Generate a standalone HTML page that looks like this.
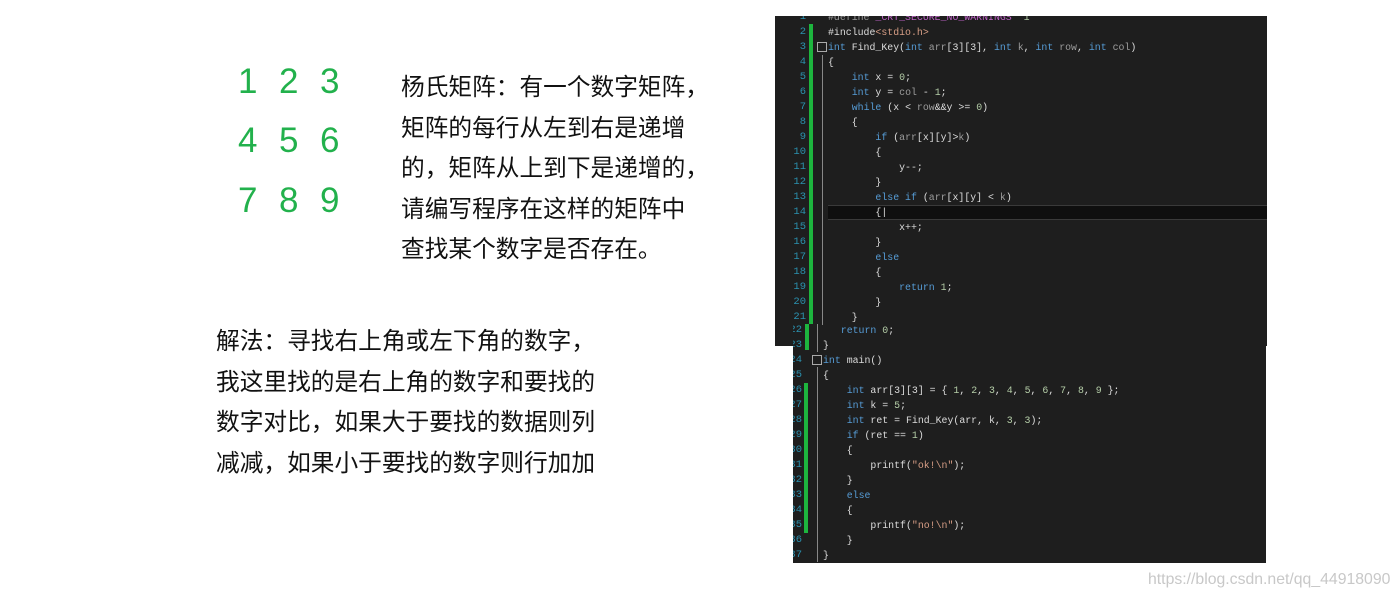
<!DOCTYPE html>
<html><head><meta charset="utf-8"><style>
body{margin:0;width:1400px;height:600px;background:#fff;position:relative;overflow:hidden;font-family:"Liberation Sans","Noto Sans CJK SC",sans-serif}
.n{position:absolute;color:#22b14c;font-size:35px;line-height:40px;font-family:"Liberation Sans",sans-serif}
.t{position:absolute;color:#111;font-size:23.7px;line-height:40.5px;white-space:nowrap}
.p{position:absolute;background:#1e1e1e}
.l{position:absolute;font-family:"Liberation Mono",monospace;font-size:9.9px;line-height:15px;height:15px;white-space:pre;color:#dcdcdc}
.ln{position:absolute;font-family:"Liberation Mono",monospace;font-size:10.5px;line-height:15px;color:#2b91af;text-align:right;width:30px}
.k{color:#569cd6}.g{color:#9b9b9b}.d{color:#b5cea8}.s{color:#d69d85}.m{color:#bd63c5}
</style></head><body>
<div class="n" style="left:238px;top:62px">1</div><div class="n" style="left:279px;top:62px">2</div><div class="n" style="left:320px;top:62px">3</div>
<div class="n" style="left:238px;top:121px">4</div><div class="n" style="left:279px;top:121px">5</div><div class="n" style="left:320px;top:121px">6</div>
<div class="n" style="left:238px;top:181px">7</div><div class="n" style="left:279px;top:181px">8</div><div class="n" style="left:320px;top:181px">9</div>
<div class="t" style="left:401px;top:68px">杨氏矩阵：有一个数字矩阵，<br>矩阵的每行从左到右是递增<br>的，矩阵从上到下是递增的，<br>请编写程序在这样的矩阵中<br>查找某个数字是否存在。</div>
<div class="t" style="left:216px;top:322px">解法：寻找右上角或左下角的数字，<br>我这里找的是右上角的数字和要找的<br>数字对比，如果大于要找的数据则列<br>减减，如果小于要找的数字则行加加</div>
<div class="p" style="left:775px;top:16px;width:492px;height:330px"></div>
<div class="p" style="left:793px;top:345px;width:473px;height:218px"></div>
<div style="position:absolute;left:809px;top:24px;width:4px;height:300px;background:#1db53e"></div>
<div style="position:absolute;left:805px;top:324px;width:4px;height:26px;background:#1db53e"></div>
<div style="position:absolute;left:804px;top:383px;width:4px;height:150px;background:#1db53e"></div>
<div style="position:absolute;left:822px;top:55px;width:1px;height:270px;background:#888"></div>
<div style="position:absolute;left:817px;top:324px;width:1px;height:28px;background:#888"></div>
<div style="position:absolute;left:817px;top:367px;width:1px;height:195px;background:#888"></div>
<div style="position:absolute;left:828px;top:205px;width:439px;height:13px;background:#0f0f0f;border-top:1px solid #3a3a3a;border-bottom:1px solid #3a3a3a"></div>
<div style="position:absolute;left:817px;top:42px;width:8px;height:8px;border:1px solid #aaa"></div>
<div style="position:absolute;left:812px;top:355px;width:8px;height:8px;border:1px solid #aaa"></div>
<div id="code"></div>
<script>
var tl=[
'<span class="g">#define </span><span class="m">_CRT_SECURE_NO_WARNINGS</span>  <span class="d">1</span>',
'#include<span class="s">&lt;stdio.h&gt;</span>',
'<span class="k">int</span> Find_Key(<span class="k">int</span> <span class="g">arr</span>[3][3], <span class="k">int</span> <span class="g">k</span>, <span class="k">int</span> <span class="g">row</span>, <span class="k">int</span> <span class="g">col</span>)',
'{',
'    <span class="k">int</span> x = <span class="d">0</span>;',
'    <span class="k">int</span> y = <span class="g">col</span> - <span class="d">1</span>;',
'    <span class="k">while</span> (x &lt; <span class="g">row</span>&amp;&amp;y &gt;= <span class="d">0</span>)',
'    {',
'        <span class="k">if</span> (<span class="g">arr</span>[x][y]&gt;<span class="g">k</span>)',
'        {',
'            y--;',
'        }',
'        <span class="k">else if</span> (<span class="g">arr</span>[x][y] &lt; <span class="g">k</span>)',
'        {|',
'            x++;',
'        }',
'        <span class="k">else</span>',
'        {',
'            <span class="k">return</span> <span class="d">1</span>;',
'        }',
'    }'];
var bl=['   <span class="k">return</span> <span class="d">0</span>;','}','<span class="k">int</span> main()','{',
'    <span class="k">int</span> arr[3][3] = { <span class="d">1</span>, <span class="d">2</span>, <span class="d">3</span>, <span class="d">4</span>, <span class="d">5</span>, <span class="d">6</span>, <span class="d">7</span>, <span class="d">8</span>, <span class="d">9</span> };',
'    <span class="k">int</span> k = <span class="d">5</span>;','    <span class="k">int</span> ret = Find_Key(arr, k, <span class="d">3</span>, <span class="d">3</span>);','    <span class="k">if</span> (ret == <span class="d">1</span>)','    {',
'        printf(<span class="s">"ok!\\n"</span>);','    }','    <span class="k">else</span>','    {','        printf(<span class="s">"no!\\n"</span>);','    }','}'];
var h='';
for(var i=0;i<tl.length;i++){var n=i+1,y=2+15*n-7.5;
h+='<div class="ln" style="left:776px;top:'+y+'px">'+n+'</div>';
h+='<div class="l" style="left:828px;top:'+y+'px">'+tl[i]+'</div>';}
for(var j=0;j<bl.length;j++){var n=22+j,y=330+15*j-7.5;
h+='<div class="ln" style="left:772px;top:'+y+'px;clip-path:inset(0 0 0 21px)">'+n+'</div>';
h+='<div class="l" style="left:823px;top:'+y+'px">'+bl[j]+'</div>';}
document.getElementById('code').innerHTML=h;
</script>
<div style="position:absolute;left:700px;top:0;width:700px;height:16px;background:#fff"></div>
<div style="position:absolute;left:1148px;top:571px;color:#c8c8c8;font-size:15.8px;font-family:'Liberation Sans',sans-serif">https://blog.csdn.net/qq_44918090</div>
</body></html>
